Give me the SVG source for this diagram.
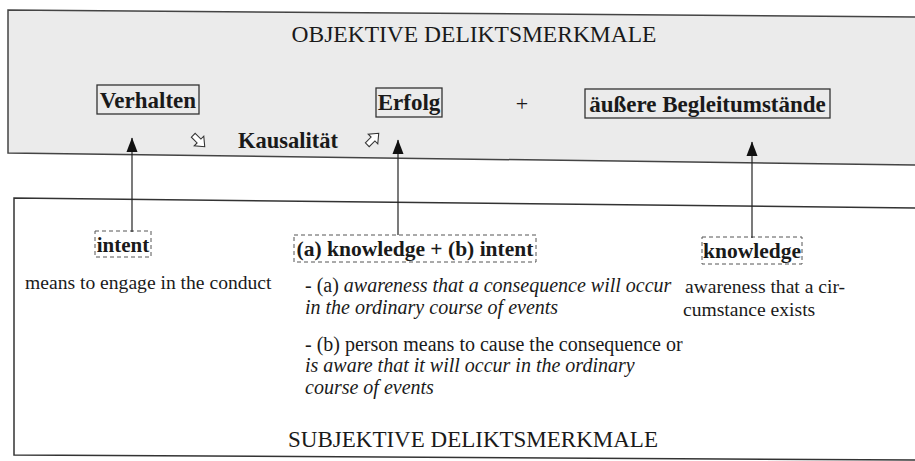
<svg xmlns="http://www.w3.org/2000/svg" width="915" height="461" viewBox="0 0 915 461">
<defs>
<style>
.t{font-family:"Liberation Serif","Times New Roman","DejaVu Serif",serif;fill:#1a1a1a}
.b{font-weight:bold}
.i{font-style:italic}
.solid{fill:none;stroke:#333;stroke-width:1.3}
.dash{fill:none;stroke:#555;stroke-width:1;stroke-dasharray:4 3}
.hollow{fill:#fff;stroke:#333;stroke-width:0.8}
</style>
<marker id="ah" markerUnits="userSpaceOnUse" markerWidth="15" markerHeight="12" refX="14" refY="6" orient="auto" viewBox="0 0 15 12">
<path d="M0,0.5 L14.5,6 L0,11.5 Z" fill="#111"/>
</marker>
<path id="harrow" d="M-6,-2 L0,-2 L0,-5 L6,0 L0,5 L0,2 L-6,2 Z"/>
</defs>

<g id="objective-panel">
<path d="M8,10 L915,17 L915,165 L8,153 Z" fill="#ebebeb"/>
<path d="M915,17 L8,10 L8,153 L915,165" fill="none" stroke="#444" stroke-width="1.5"/>
<text class="t" x="474" y="42" font-size="23.5" text-anchor="middle">OBJEKTIVE DELIKTSMERKMALE</text>
</g>

<g id="subjective-panel">
<path d="M915,208 L14,198 L14,455 L915,460" fill="#fff" stroke="#333" stroke-width="1.5"/>
<text class="t" x="473" y="447" font-size="23" text-anchor="middle">SUBJEKTIVE DELIKTSMERKMALE</text>
</g>

<g id="verhalten">
<rect class="solid" x="97" y="85" width="102" height="29"/>
<text class="t b" x="148" y="108" font-size="23" text-anchor="middle">Verhalten</text>
</g>

<g id="erfolg">
<rect class="solid" x="376" y="88" width="66" height="29"/>
<text class="t b" x="409" y="110" font-size="23" text-anchor="middle">Erfolg</text>
</g>

<g id="plus">
<text class="t" x="522" y="111" font-size="22" text-anchor="middle">+</text>
</g>

<g id="begleitumstaende">
<rect class="solid" x="585" y="89" width="245" height="29"/>
<text class="t b" x="707.5" y="112" font-size="23" text-anchor="middle">äußere Begleitumstände</text>
</g>

<g id="kausalitaet">
<use href="#harrow" class="hollow" transform="translate(199,141) rotate(45) scale(1.35)"/>
<text class="t b" x="288" y="148" font-size="22.5" text-anchor="middle">Kausalität</text>
<use href="#harrow" class="hollow" transform="translate(373,139) rotate(-45) scale(1.35)"/>
</g>

<g id="intent">
<rect class="dash" x="95" y="231" width="56" height="26"/>
<text class="t b" x="123" y="252" font-size="21" text-anchor="middle">intent</text>
<text class="t" x="25" y="289" font-size="19.6">means to engage in the conduct</text>
</g>

<g id="knowledge-intent">
<rect class="dash" x="294" y="235" width="242" height="27"/>
<text class="t b" x="415" y="256" font-size="21.5" text-anchor="middle">(a) knowledge + (b) intent</text>
<text class="t" x="305" y="292" font-size="20">- (a) <tspan class="i">awareness that a consequence will occur</tspan></text>
<text class="t i" x="305" y="314" font-size="20">in the ordinary course of events</text>
<text class="t" x="305" y="351" font-size="20">- (b) person means to cause the consequence or</text>
<text class="t i" x="305" y="372" font-size="20">is aware that it will occur in the ordinary</text>
<text class="t i" x="305" y="394" font-size="20">course of events</text>
</g>

<g id="knowledge">
<rect class="dash" x="702" y="237" width="100" height="27"/>
<text class="t b" x="752" y="258" font-size="21.5" text-anchor="middle">knowledge</text>
<text class="t" x="685" y="293" font-size="19.6">awareness that a cir-</text>
<text class="t" x="683" y="316" font-size="19.6">cumstance exists</text>
</g>

<g id="connectors" stroke="#222" stroke-width="1.2" fill="none">
<line x1="132" y1="232" x2="132" y2="138" marker-end="url(#ah)"/>
<line x1="398" y1="235" x2="398" y2="140" marker-end="url(#ah)"/>
<line x1="752" y1="238" x2="752" y2="142" marker-end="url(#ah)"/>
</g>
</svg>
